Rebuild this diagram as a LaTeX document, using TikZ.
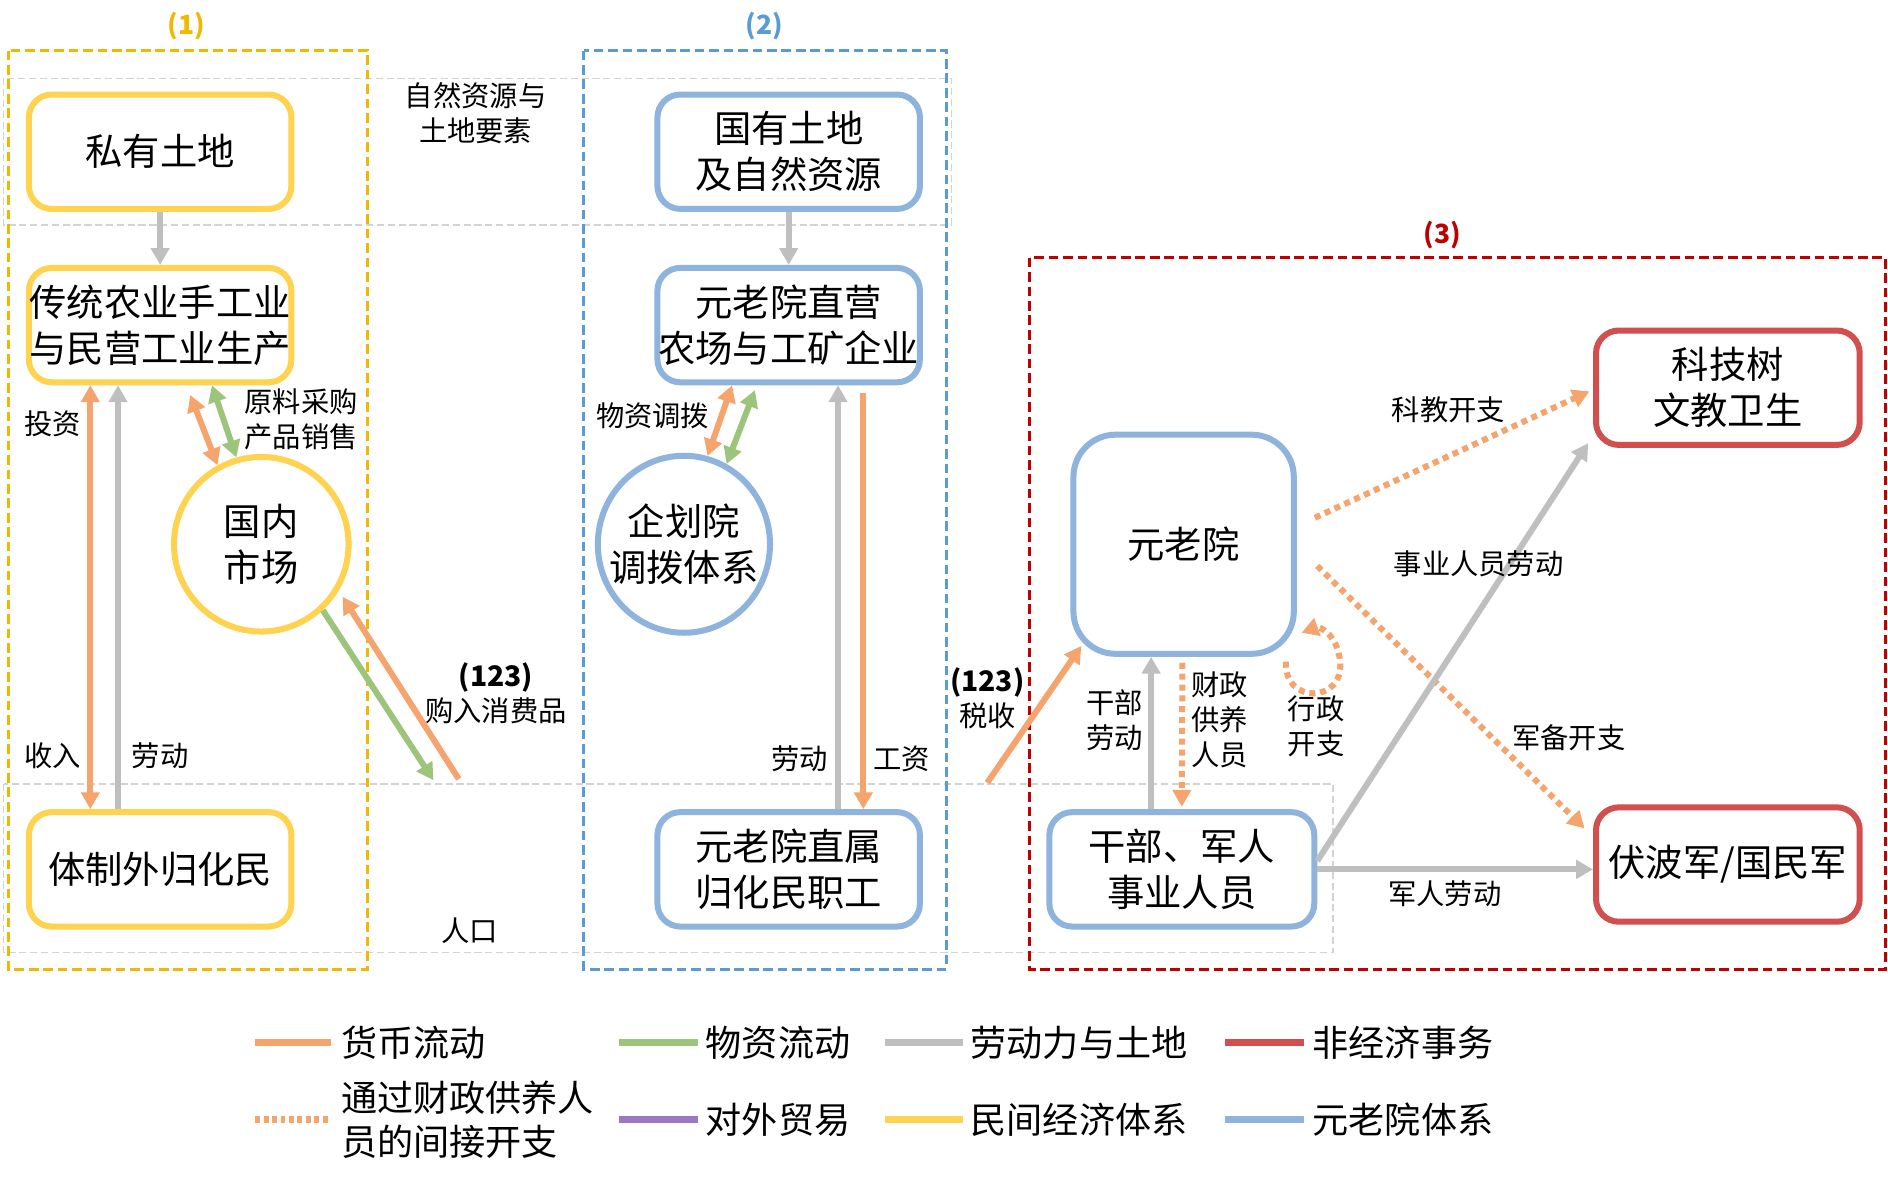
\documentclass[tikz,border=0pt]{standalone}
\usepackage{fontspec}
\setmainfont{Noto Sans CJK SC}
\usetikzlibrary{arrows.meta,shapes.geometric,calc}
\definecolor{cOr}{HTML}{F4A46C}
\definecolor{cGn}{HTML}{9CC57B}
\definecolor{cGy}{HTML}{BFBFBF}
\definecolor{cRd}{HTML}{D24F4F}
\definecolor{cBl}{HTML}{8EB4DE}
\definecolor{cYl}{HTML}{FFD24F}
\definecolor{cPu}{HTML}{9C77C2}
\definecolor{cYd}{HTML}{F2B700}
\definecolor{cBd}{HTML}{5B9BD5}
\definecolor{cRd2}{HTML}{C00000}
\definecolor{cBand}{HTML}{D3D3D3}
\newcommand\myNodeFont{\fontsize{31}{38}\selectfont}
\newcommand\myLblFont{\fontsize{23.5}{29}\selectfont}
\newcommand\myLegFont{\fontsize{30}{36}\selectfont}
\tikzset{
  boxbase/.style={line width=5pt, rounded corners=19pt, minimum width=218pt, minimum height=95pt, inner sep=0pt, align=center, font=\myNodeFont, fill=white},
  ybox/.style={boxbase, draw=cYl},
  bbox/.style={boxbase, draw=cBl},
  rbox/.style={boxbase, draw=cRd},
  ycirc/.style={circle, draw=cYl, line width=5pt, minimum size=145pt, inner sep=0pt, align=center, font=\myNodeFont, fill=white},
  bell/.style={ellipse, draw=cBl, line width=5pt, minimum width=143pt, minimum height=147pt, inner sep=0pt, align=center, font=\myNodeFont, fill=white},
  tip/.style={-{Triangle[length=14pt,width=15pt]}},
  dtip/.style={{Triangle[length=14pt,width=15pt]}-{Triangle[length=14pt,width=15pt]}},
  oarr/.style={tip, line width=5pt, draw=cOr},
  odarr/.style={dtip, line width=5pt, draw=cOr},
  garr/.style={tip, line width=5pt, draw=cGy},
  gnarr/.style={tip, line width=5pt, draw=cGn},
  gndarr/.style={dtip, line width=5pt, draw=cGn},
  dotarr/.style={tip, line width=5pt, draw=cOr, dash pattern=on 5pt off 4pt},
  lbl/.style={align=center, inner sep=0pt, font=\myLblFont},
  ttl/.style={inner sep=0pt, font=\fontsize{22}{26}\selectfont\bfseries},
  grpbox/.style={line width=2.5pt, dash pattern=on 8pt off 4pt},
  band/.style={line width=1.2pt, draw=cBand, dash pattern=on 6pt off 3pt},
  legline/.style={line width=6pt},
  legtxt/.style={anchor=west, inner sep=0pt, align=left, font=\myLegFont}
}
\begin{document}
\begin{tikzpicture}[x=1pt,y=-1pt]
\useasboundingbox (0,0) rectangle (1568,987);
\fill[white] (0,0) rectangle (1568,987);

% background bands
\draw[band] (3,65) rectangle (790,187);
\draw[band] (3,651) rectangle (1107,791);

% group boxes
\draw[grpbox, draw=cYd] (7,42) rectangle (305,805);
\draw[grpbox, draw=cBd] (485,42) rectangle (786,805);
\draw[grpbox, draw=cRd2] (855,214) rectangle (1566,805);
\node[ttl, text=cYd] (g1) at (155,22) {(1)};
\node[ttl, text=cBd] (g2) at (635,22) {(2)};
\node[ttl, text=cRd2] (g3) at (1198,195) {(3)};

% nodes
\node[ybox] (sy) at (133,126) {私有土地};
\node[ybox] (ct) at (133,270) {传统农业手工业\\与民营工业生产};
\node[ycirc] (sc) at (217,452) {\makebox[0pt]{国内}\\\makebox[0pt]{市场}};
\node[ybox] (tz) at (133,722) {体制外归化民};
\node[bbox] (gy) at (655,126) {国有土地\\及自然资源};
\node[bbox] (zy) at (655,270) {元老院直营\\农场与工矿企业};
\node[bell] (qh) at (568,452) {\makebox[0pt]{企划院}\\\makebox[0pt]{调拨体系}};
\node[bbox] (zs) at (655,722) {元老院直属\\归化民职工};
\node[bbox, minimum width=183pt, minimum height=182pt, rounded corners=35pt] (yl) at (983,452) {元老院};
\node[bbox, minimum width=220pt] (gb) at (981.5,722) {干部、军人\\事业人员};
\node[rbox, minimum width=219pt] (kj) at (1435,322) {科技树\\文教卫生};
\node[rbox, minimum width=219pt] (fb) at (1435,718) {伏波军/国民军};

% free ends
\coordinate (m1) at (360,648);
\coordinate (m2) at (381,647);
\coordinate (t1) at (820,650);

% group 1 connectors
\draw[garr] (sy.south) -- (ct.north);
\draw[odarr] ([xshift=-58pt]ct.south) -- ([xshift=-58pt]tz.north);
\draw[garr] ([xshift=-35pt]tz.north) -- ([xshift=-35pt]ct.south);
\draw[odarr] ([xshift=25pt,yshift=-8pt]ct.south) -- (sc.119);
\draw[gndarr] ([xshift=43pt]ct.south) -- (sc.106);
\draw[gnarr] (sc.-47) -- (m1);
\draw[oarr, shorten >=6pt] (m2) -- (sc.-31);

% group 2 connectors
\draw[garr] (gy.south) -- (zy.north);
\draw[odarr] ([xshift=-47pt]zy.south) -- (qh.75);
\draw[gndarr] ([xshift=-28pt,yshift=-4pt]zy.south) -- (qh.62);
\draw[garr] ([xshift=41pt]zs.north) -- ([xshift=41pt]zy.south);
\draw[oarr] ([xshift=62pt,yshift=-6pt]zy.south) -- ([xshift=62pt]zs.north);

% group 3 connectors
\draw[oarr] (t1) -- ([xshift=9pt,yshift=9pt]yl.south west);
\draw[garr] ([xshift=-25.5pt]gb.north) -- ([xshift=-27pt]yl.south);
\draw[dotarr] ([xshift=-1pt,yshift=-5pt]yl.south) -- ([yshift=2pt]gb.north);
\draw[dotarr] ([xshift=-9pt,yshift=-4pt]yl.south east) .. controls (1066,585) and (1116,584) .. (1113,550) .. controls (1111,527) and (1096,520) .. ([xshift=4pt,yshift=20pt]yl.south east);
\draw[dotarr] ([xshift=15pt,yshift=22pt]yl.east) -- ([xshift=-3pt,yshift=-3pt]kj.west);
\draw[dotarr] ([xshift=17pt,yshift=-18pt]yl.east) -- ([xshift=-7pt,yshift=-20pt]fb.north west);
\draw[garr] ([yshift=7pt]gb.east) -- ([xshift=-4pt,yshift=4pt]kj.south west);
\draw[garr] (gb.east) -- (gb.east -| fb.west);

% labels
\node[lbl] (l1) at (395,94) {自然资源与\\土地要素};
\node[lbl] (l2) at (44,352) {投资};
\node[lbl] (l3) at (44,628) {收入};
\node[lbl] (l4) at (133,628) {劳动};
\node[lbl] (l5) at (250,348) {原料采购\\产品销售};
\node[lbl] (l6) at (412,576) {\textbf{(123)}\\购入消费品};
\node[lbl] (l7) at (390,773) {人口};
\node[lbl] (l8) at (542,345) {物资调拨};
\node[lbl] (l9) at (664,630) {劳动};
\node[lbl] (l10) at (749,630) {工资};
\node[lbl] (l11) at (820,580) {\textbf{(123)}\\税收};
\node[lbl] (l12) at (926,598) {干部\\劳动};
\node[lbl] (l13) at (1013,598) {财政\\供养\\人员};
\node[lbl] (l14) at (1093,603) {行政\\开支};
\node[lbl] (l15) at (1203,340) {科教开支};
\node[lbl] (l16) at (1228,468) {事业人员劳动};
\node[lbl] (l17) at (1303,613) {军备开支};
\node[lbl] (l18) at (1200,742) {军人劳动};

% legend
\coordinate (a1) at (212,866); \coordinate (b1) at (275,866);
\coordinate (a2) at (514,866); \coordinate (b2) at (580,866);
\coordinate (a3) at (735,866); \coordinate (b3) at (800,866);
\coordinate (a4) at (1017,866); \coordinate (b4) at (1083,866);
\coordinate (a5) at (212,930); \coordinate (b5) at (275,930);
\coordinate (a6) at (514,930); \coordinate (b6) at (580,930);
\coordinate (a7) at (735,930); \coordinate (b7) at (800,930);
\coordinate (a8) at (1017,930); \coordinate (b8) at (1083,930);
\draw[legline, draw=cOr] (a1) -- (b1);
\draw[legline, draw=cGn] (a2) -- (b2);
\draw[legline, draw=cGy] (a3) -- (b3);
\draw[legline, draw=cRd] (a4) -- (b4);
\draw[legline, draw=cOr, dash pattern=on 4pt off 3pt] (a5) -- (b5);
\draw[legline, draw=cPu] (a6) -- (b6);
\draw[legline, draw=cYl] (a7) -- (b7);
\draw[legline, draw=cBl] (a8) -- (b8);
\node[legtxt] (e1) at (283,866) {货币流动};
\node[legtxt] (e2) at (586,866) {物资流动};
\node[legtxt] (e3) at (806,866) {劳动力与土地};
\node[legtxt] (e4) at (1090,866) {非经济事务};
\node[legtxt] (e5) at (283,930) {通过财政供养人\\员的间接开支};
\node[legtxt] (e6) at (586,930) {对外贸易};
\node[legtxt] (e7) at (806,930) {民间经济体系};
\node[legtxt] (e8) at (1090,930) {元老院体系};
\end{tikzpicture}
\end{document}
